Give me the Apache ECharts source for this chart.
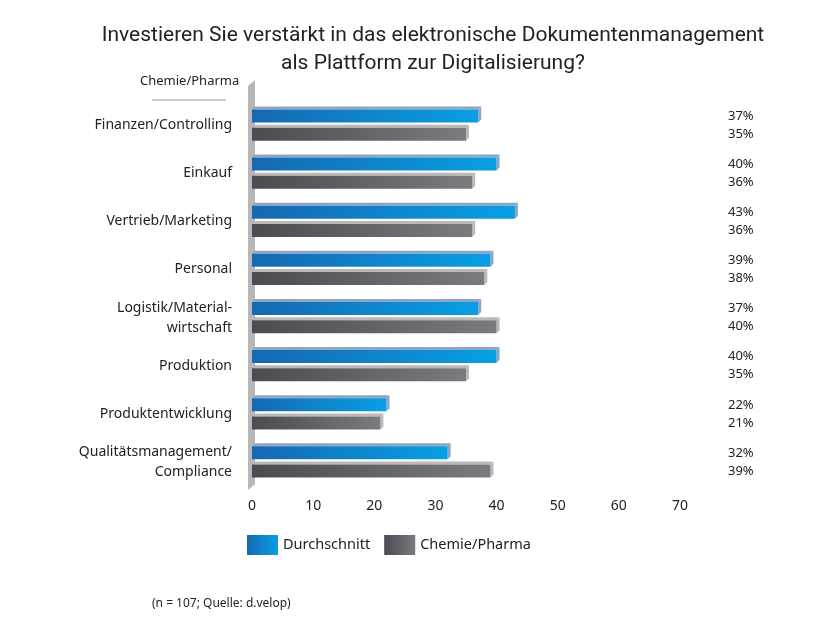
<!DOCTYPE html>
<html><head><meta charset="utf-8">
<script src="https://cdn.jsdelivr.net/npm/echarts@6/dist/echarts.min.js"></script>
<style>html,body{margin:0;padding:0;background:#fff}#c{width:831px;height:624px}</style>
</head><body><div id="c"></div>
<script>
const categories = ['Finanzen/Controlling','Einkauf','Vertrieb/Marketing','Personal','Logistik/Material-\nwirtschaft','Produktion','Produktentwicklung','Qualitätsmanagement/\nCompliance'];
const durchschnitt = [37,40,43,39,37,40,22,32];
const chemiePharma = [35,36,36,38,40,35,21,39];
const xTicks = [0,10,20,30,40,50,60,70];

const font = '"Noto Sans", "DejaVu Sans", sans-serif';
const titleFont = 'Roboto, "Noto Sans", sans-serif';
const blueGrad = new echarts.graphic.LinearGradient(0,0,1,0,[{offset:0,color:'#1668b0'},{offset:1,color:'#079fe4'}]);
const grayGrad = new echarts.graphic.LinearGradient(0,0,1,0,[{offset:0,color:'#4c4a52'},{offset:1,color:'#7c7a7f'}]);

function makeRender(idx, grad, topColor){
  return function(params, api){
    const cat = api.value(0), val = api.value(1);
    const end = api.coord([val, cat]);
    const start = api.coord([0, cat]);
    const band = api.size([0,1])[1];
    const h = band*0.27, gap = band*0.11;
    const y0 = idx===0 ? end[1]-gap/2-h : end[1]+gap/2;
    const x0 = start[0], x1 = end[0];
    const d = 3;
    return {type:'group', children:[
      {type:'polygon', shape:{points:[[x0,y0],[x0+d,y0-d],[x1+d,y0-d],[x1,y0]]}, style:{fill:topColor}},
      {type:'polygon', shape:{points:[[x1,y0],[x1+d,y0-d],[x1+d,y0+h-d],[x1,y0+h]]}, style:{fill:topColor}},
      {type:'rect', shape:{x:x0,y:y0,width:x1-x0,height:h}, style:{fill:grad}}
    ]};
  };
}

const G = {left:252, right:151, top:101, bottom:138};
const W = 831, H = 624;
const wx = G.left, wt = G.top-19, wb = H-G.bottom+4;

const chart = echarts.init(document.getElementById('c'));
chart.setOption({
  animation:false,
  title:{text:'Investieren Sie verstärkt in das elektronische Dokumentenmanagement\nals Plattform zur Digitalisierung?', left:428, textAlign:'center', top:17,
    textStyle:{fontFamily:titleFont, fontSize:21, fontWeight:'normal', color:'#222', lineHeight:28}},
  legend:{left:242, top:530, itemWidth:31, itemHeight:20, itemGap:14, icon:'rect',
    textStyle:{fontFamily:font, fontSize:14.5, color:'#222'}, data:['Durchschnitt','Chemie/Pharma']},
  grid:G,
  xAxis:{type:'value', min:0, max:70, interval:10, axisLine:{show:false}, axisTick:{show:false}, splitLine:{show:false},
    axisLabel:{fontFamily:font, fontSize:14, color:'#222', margin:13}},
  yAxis:[
    {type:'category', data:categories, inverse:true, axisLine:{show:false}, axisTick:{show:false},
      axisLabel:{fontFamily:font, fontSize:14, color:'#222', margin:20, lineHeight:20}},
    {type:'category', data:categories, inverse:true, position:'right', axisLine:{show:false}, axisTick:{show:false},
      axisLabel:{fontFamily:font, fontSize:13, color:'#222', margin:48, lineHeight:18,
        formatter:function(v, i){ return durchschnitt[i]+'%\n'+chemiePharma[i]+'%'; }}}
  ],
  graphic:[
    {id:'wall', type:'polygon', z:-1, shape:{points:[[wx-4,wt+4],[wx+3,wt-2],[wx+3,wb-6],[wx-4,wb]]}, style:{fill:'#b7b7b9'}},
    {id:'subl', type:'text', left:140, top:75, style:{text:'Chemie/Pharma', fontFamily:font, fontSize:13, fill:'#222'}},
    {id:'subline', type:'line', shape:{x1:152,y1:100,x2:226,y2:100}, style:{stroke:'#999', lineWidth:1}},
    {id:'foot', type:'text', left:152, top:598, style:{text:'(n = 107; Quelle: d.velop)', fontFamily:font, fontSize:12, fill:'#222'}}
  ],
  series:[
    {name:'Durchschnitt', type:'custom', itemStyle:{color:blueGrad}, renderItem:makeRender(0, blueGrad, '#8fa6c2'),
      data:durchschnitt.map((v,i)=>[i,v]), encode:{x:1,y:0}},
    {name:'Chemie/Pharma', type:'custom', itemStyle:{color:grayGrad}, renderItem:makeRender(1, grayGrad, '#b9b9bc'),
      data:chemiePharma.map((v,i)=>[i,v]), encode:{x:1,y:0}}
  ]
});
</script></body></html>
